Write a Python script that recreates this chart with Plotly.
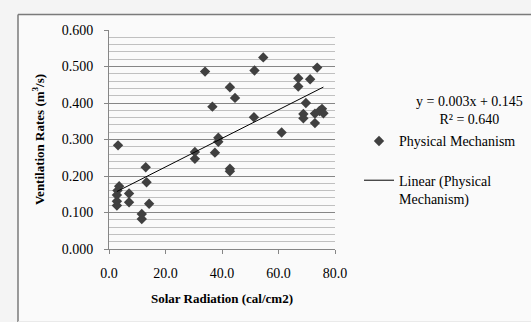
import numpy as np
import plotly.graph_objects as go

solar_radiation = [3.2, 3.6, 3.0, 2.8, 2.8, 2.8, 7.1, 7.1, 13.0, 13.3, 14.2, 11.6, 11.6,
                   30.4, 30.4, 37.5, 38.7, 38.7, 42.8, 42.8, 34.0, 36.6, 42.8, 44.6,
                   51.5, 54.6, 51.3, 61.1, 67.0, 67.0, 71.2, 73.7, 69.7, 68.8, 68.8,
                   72.9, 72.9, 75.4, 75.9, 74.5]
ventilation = [0.284, 0.172, 0.160, 0.148, 0.131, 0.119, 0.152, 0.128, 0.224, 0.183, 0.124, 0.096, 0.082,
               0.266, 0.247, 0.264, 0.305, 0.294, 0.220, 0.213, 0.486, 0.390, 0.443, 0.414,
               0.489, 0.525, 0.361, 0.319, 0.468, 0.445, 0.465, 0.497, 0.400, 0.370, 0.358,
               0.371, 0.345, 0.384, 0.372, 0.378]
equation_text = "y = 0.003x + 0.145<br>R² = 0.640"

slope, intercept = np.polyfit(solar_radiation, ventilation, 1)
x_fit = [min(solar_radiation), max(solar_radiation)]
y_fit = [slope * v + intercept for v in x_fit]

FONT = "Liberation Serif"
W, H = 531, 322
L, R, T, B = 109, 196, 29.5, 73.3
pw, ph = W - L - R, H - T - B

def px_x(p):
    return (p - L) / pw

def px_y(p):
    return (H - B - p) / ph

fig = go.Figure()
fig.add_trace(go.Scatter(
    x=solar_radiation, y=ventilation, mode="markers", name="Physical Mechanism",
    legendgroup="a",
    marker=dict(symbol="diamond", size=8, color="#404040", line=dict(width=0)),
))
fig.add_trace(go.Scatter(
    x=x_fit, y=y_fit, mode="lines", name="Linear (Physical<br>Mechanism)",
    legendgroup="b",
    line=dict(color="#000000", width=1),
))

# chart frame (cropped on right and bottom)
fig.add_shape(type="rect", xref="paper", yref="paper",
              x0=px_x(18), x1=px_x(531), y0=px_y(322), y1=px_y(14),
              fillcolor="#fafafa", line=dict(width=0), layer="below")
fig.add_shape(type="line", xref="paper", yref="paper",
              x0=px_x(18), x1=px_x(531), y0=px_y(14), y1=px_y(14),
              line=dict(color="#7a7a7a", width=1.5), layer="below")
fig.add_shape(type="line", xref="paper", yref="paper",
              x0=px_x(18), x1=px_x(18), y0=px_y(322), y1=px_y(14),
              line=dict(color="#7a7a7a", width=1.5), layer="below")
fig.add_shape(type="line", xref="paper", yref="paper",
              x0=px_x(18), x1=px_x(531), y0=px_y(321.5), y1=px_y(321.5),
              line=dict(color="#e6e6e6", width=1), layer="below")

fig.add_annotation(xref="paper", yref="paper", x=px_x(469.5), y=px_y(110),
                   xanchor="center", yanchor="middle",
                   text=equation_text, showarrow=False, align="center",
                   font=dict(family=FONT, size=14, color="#000"))

fig.update_layout(
    width=W, height=H,
    margin=dict(l=L, r=R, t=T, b=B, autoexpand=False),
    paper_bgcolor="#f4f4f4", plot_bgcolor="rgba(0,0,0,0)",
    font=dict(family=FONT, size=14, color="#000"),
    legend=dict(x=px_x(359), y=px_y(125), xanchor="left", yanchor="top",
                bgcolor="rgba(0,0,0,0)", tracegroupgap=18, valign="top",
                font=dict(family=FONT, size=14), itemwidth=30),
    showlegend=True,
)
fig.update_xaxes(
    range=[0, 80], dtick=20, tickformat=".1f", showgrid=False, zeroline=False,
    showline=True, linecolor="#868686", linewidth=1,
    ticks="outside", ticklen=4, tickcolor="#868686", ticklabelstandoff=7,
    tickfont=dict(family=FONT, size=14),
    title=dict(text="Solar Radiation (cal/cm2)", standoff=14,
               font=dict(family=FONT, size=13, weight="bold")),
)
fig.update_yaxes(
    range=[0, 0.6], dtick=0.1, tickformat=".3f", zeroline=False,
    showgrid=True, gridcolor="#868686", gridwidth=1,
    minor=dict(dtick=0.02, showgrid=True, gridcolor="#c0c0c0", gridwidth=1),
    showline=True, linecolor="#868686", linewidth=1,
    ticks="outside", ticklen=4, tickcolor="#868686", ticklabelstandoff=8,
    tickfont=dict(family=FONT, size=14),
    title=dict(text="Ventilation Rates (m<sup>3</sup>/s)", standoff=14,
               font=dict(family=FONT, size=13, weight="bold")),
)

fig.write_html("out.html")
